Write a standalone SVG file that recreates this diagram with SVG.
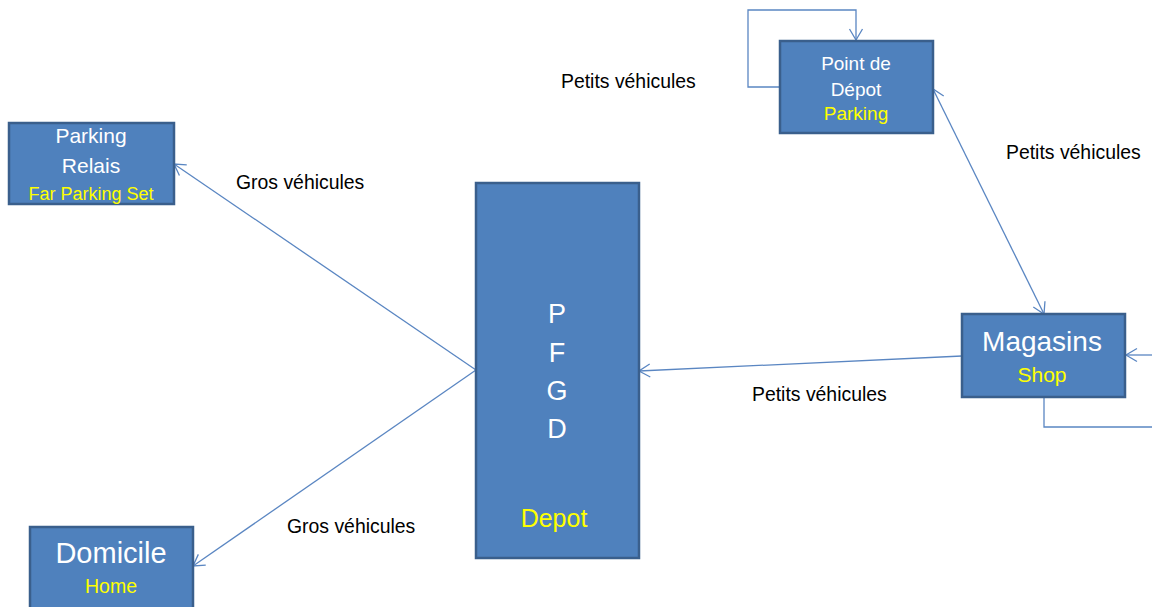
<svg xmlns="http://www.w3.org/2000/svg" width="1152" height="607" viewBox="0 0 1152 607">
<style>
.box{fill:#4F81BD;stroke:#3A5F8C;stroke-width:2.5}
.w{fill:#FFFFFF;font-family:"Liberation Sans",Arial,sans-serif;text-anchor:middle}
.y{fill:#FFFF00;font-family:"Liberation Sans",Arial,sans-serif;text-anchor:middle}
.lbl{fill:#000000;font-family:"Liberation Sans",Arial,sans-serif;font-size:19.4px}
.c{fill:none;stroke:#5A86C2;stroke-width:1.3}
</style>
<defs>
<marker id="ah" markerUnits="userSpaceOnUse" markerWidth="16" markerHeight="16" refX="12" refY="7" orient="auto-start-reverse" viewBox="0 0 16 14">
<path d="M1,0.5 L12,7 L1,13.5" fill="none" stroke="#5A86C2" stroke-width="1.3"/>
</marker>
</defs>
<rect width="1152" height="607" fill="#FFFFFF"/>
<g id="connectors">
<path class="c" d="M780,87 H748 V10 H856 V40" marker-end="url(#ah)"/>
<path class="c" d="M933,89 L1044,314" marker-start="url(#ah)" marker-end="url(#ah)"/>
<path class="c" d="M1152,355 H1126" marker-end="url(#ah)"/>
<path class="c" d="M1044,397 V427 H1152"/>
<path class="c" d="M962,356 L639,371" marker-end="url(#ah)"/>
<path class="c" d="M476,370 L174,164" marker-end="url(#ah)"/>
<path class="c" d="M476,370 L193,566" marker-end="url(#ah)"/>
</g>
<g id="labels">
<text class="lbl" x="561" y="88">Petits véhicules</text>
<text class="lbl" x="1006" y="159">Petits véhicules</text>
<text class="lbl" x="236" y="189">Gros véhicules</text>
<text class="lbl" x="752" y="401">Petits véhicules</text>
<text class="lbl" x="287" y="533">Gros véhicules</text>
</g>
<g id="point-de-depot">
<rect class="box" x="780" y="41" width="153" height="92"/>
<text class="w" x="856" y="70" font-size="19">Point de</text>
<text class="w" x="856" y="96" font-size="19">Dépot</text>
<text class="y" x="856" y="120" font-size="19">Parking</text>
</g>
<g id="magasins">
<rect class="box" x="962" y="314" width="163" height="83"/>
<text class="w" x="1042" y="351" font-size="28">Magasins</text>
<text class="y" x="1042" y="382" font-size="21">Shop</text>
</g>
<g id="pfgd">
<rect class="box" x="476" y="183" width="163" height="375"/>
<text class="w" x="557" y="323" font-size="27">P</text>
<text class="w" x="557" y="362" font-size="27">F</text>
<text class="w" x="557" y="400" font-size="27">G</text>
<text class="w" x="557" y="438" font-size="27">D</text>
<text class="y" x="554" y="527" font-size="25">Depot</text>
</g>
<g id="parking-relais">
<rect class="box" x="9" y="123" width="165" height="81"/>
<text class="w" x="91" y="143" font-size="21">Parking</text>
<text class="w" x="91" y="173" font-size="21">Relais</text>
<text class="y" x="91" y="200" font-size="18">Far Parking Set</text>
</g>
<g id="domicile">
<rect class="box" x="30" y="527" width="163" height="85"/>
<text class="w" x="111" y="563" font-size="29">Domicile</text>
<text class="y" x="111" y="593" font-size="19.5">Home</text>
</g>
</svg>
